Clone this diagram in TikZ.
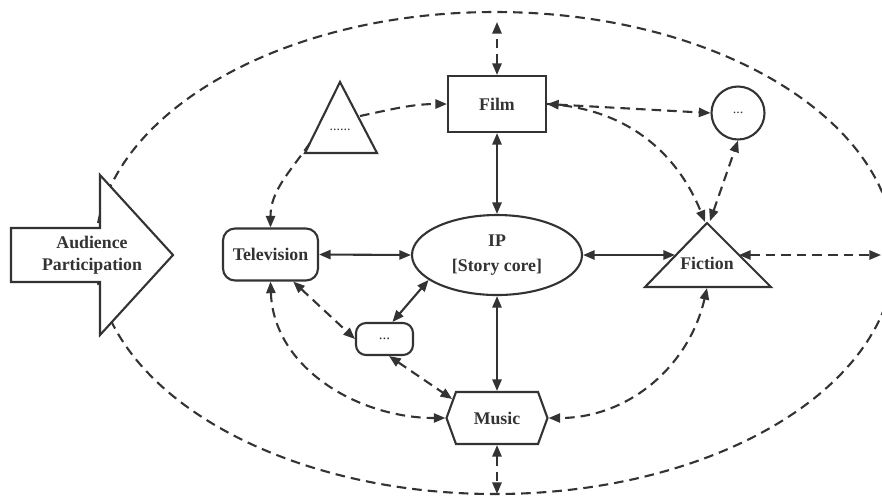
\documentclass[tikz,border=0pt]{standalone}
\usepackage{fontspec}
\setmainfont{Liberation Serif}
\usetikzlibrary{shapes.geometric,shapes.symbols,arrows.meta}
\definecolor{ink}{HTML}{333333}
\begin{document}
\begin{tikzpicture}[x=0.5pt,y=-0.5pt,color=ink,line width=1.05pt,
  >={Triangle[length=5.8pt,width=4.6pt]},
  lbl/.style={font=\bfseries\fontsize{8.9}{12.5}\selectfont,text=ink,align=center},
  box/.style={draw=ink,lbl,inner sep=0pt,fill=white},
  dots/.style={font=\fontsize{7}{8}\selectfont,text=ink},
  sol/.style={<->},
  dsh/.style={dash pattern=on 4.8pt off 3pt},
  dd/.style={<->,dsh},
  dto/.style={->,dsh}]
\clip (0,0) rectangle (882,495);
% outer dashed ellipse
\draw[dsh] (495,253) ellipse [x radius=200pt,y radius=120.5pt];
% audience arrow
\draw[fill=white,line join=miter] (11,228) -- (100,228) -- (100,175) -- (173,255) -- (100,335) -- (100,282) -- (11,282) -- cycle;
\node[lbl,font=\bfseries\fontsize{8.9}{11}\selectfont] (aud) at (92,255) {Audience\\Participation};
% triangles
\draw[line join=miter] (340,82) -- (377,153) -- (305,153) -- cycle;
\node[dots] (tri) at (340,130) {......};
\coordinate (t1r) at (360,116);
\coordinate (t1l) at (310,143);
\draw[line join=miter] (707,223) -- (771,287) -- (645,287) -- cycle;
\node[lbl] (fic) at (707,263) {Fiction};
\coordinate (fa1) at (705,222);
\coordinate (fa2) at (710,221);
\coordinate (fl) at (675,255);
\coordinate (fr) at (739,255);
\coordinate (fb) at (707,288);
% nodes
\node[box,minimum width=49pt,minimum height=28pt] (film) at (497,104) {Film};
\node[box,rounded corners=6pt,minimum width=47.5pt,minimum height=26pt] (tv) at (270.5,254.5) {Television};
\node[box,ellipse,minimum width=85pt,minimum height=40pt] (ip) at (497,255) {IP\\{[Story core]}};
\node[box,rounded corners=5pt,minimum width=28.5pt,minimum height=16pt,font=\fontsize{7.5}{8}\selectfont] (sb) at (384.5,339) {...};
\node[box,circle,minimum size=26.5pt,font=\fontsize{7}{8}\selectfont] (circ) at (738,113) {...};
\node[box,signal,signal to=west and east,signal pointer angle=140,minimum width=50.5pt,minimum height=26pt] (music) at (497,418) {Music};
% free ends on the outer ellipse
\coordinate (otop) at (497,22);
\coordinate (obot) at (497,494);
\coordinate (oright) at (881,255);
% solid connectors
\draw[sol] (film.south) -- (ip.north);
\draw[sol] (tv.east) -- (ip.west);
\draw[sol] (ip.east) -- (fl);
\draw[sol] (ip.south) -- (music.north);
\draw[sol] (ip.200) -- (sb.65);
% dashed connectors
\draw[dd] (film.north) -- (otop);
\draw[dd] (music.south) -- (obot);
\draw[dd] (fr) -- (oright);
\draw[dd] (film.east) -- (circ.west);
\draw[dto] (film.east) to[out=-3,in=112] (fa1);
\draw[dd] (fa2) -- (circ.south);
\draw[dto] (t1r) to[out=12,in=180] (film.west);
\draw[dto] (t1l) to[out=-125,in=90] (tv.north);
\draw[dd] (tv.-50) -- (sb.west);
\draw[dd] (sb.-75) -- (music.157);
\draw[dd] (tv.south) to[out=-88,in=180] (music.west);
\draw[dd] (fb) to[out=-103,in=0] (music.east);
\end{tikzpicture}
\end{document}
